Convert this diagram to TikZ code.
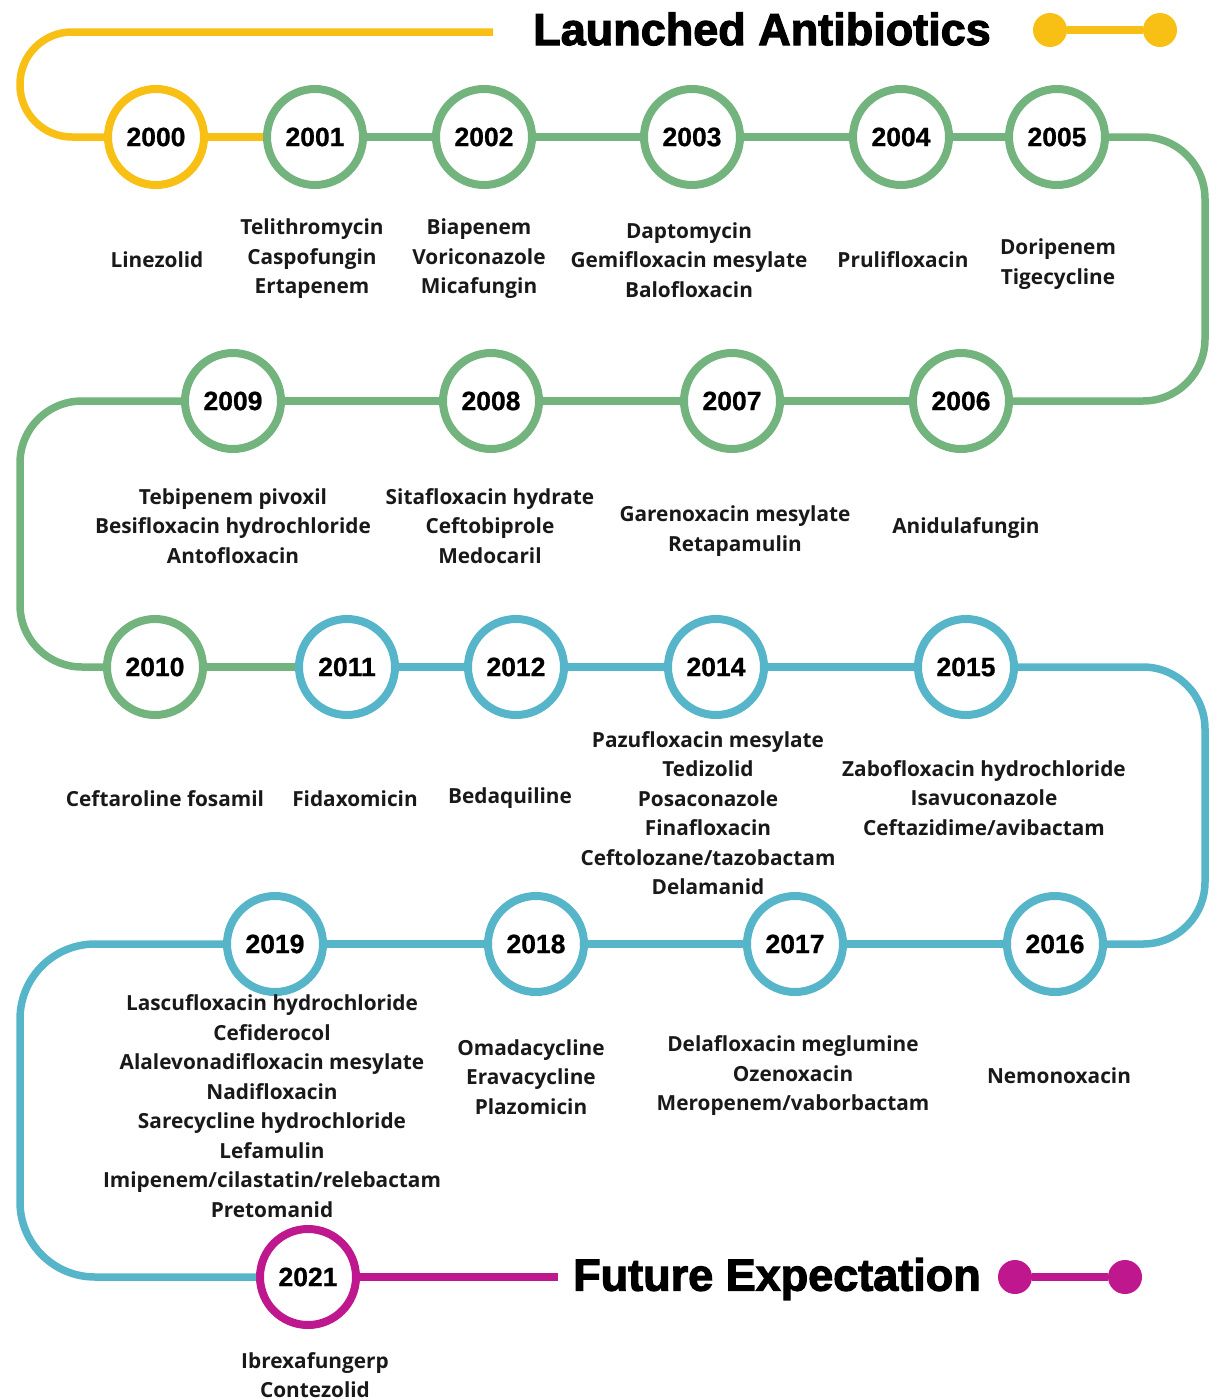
\documentclass[tikz,border=0pt]{standalone}
\usepackage{fontspec}
\setmainfont{Open Sans}
\newfontfamily\yearfont[BoldFeatures={FakeBold=0.8}]{Liberation Sans}
\newfontfamily\titlefont[BoldFeatures={FakeBold=2.5}]{Liberation Sans}
\definecolor{ycol}{HTML}{F8BF14}
\definecolor{gcol}{HTML}{73B37D}
\definecolor{bcol}{HTML}{56B5C9}
\definecolor{mcol}{HTML}{BF178E}
\begin{document}
\begin{tikzpicture}[x=1pt,y=-1pt,
  yr/.style={circle,minimum size=96pt,inner sep=0pt,line width=8pt,fill=white,
    font=\yearfont\bfseries\fontsize{26.5}{26.5}\selectfont},
  track/.style={line width=7.5pt},
  lbl/.style={align=center,inner sep=0pt,text=black!90,
    font=\bfseries\fontsize{20.8}{29.5}\selectfont},
  dot/.style={circle,inner sep=0pt,minimum size=34pt},
  ttl/.style={inner sep=0pt,font=\titlefont\bfseries\fontsize{45}{45}\selectfont}]
\useasboundingbox (0,0) rectangle (1216,1400);
% circles
\node[yr,draw=ycol] (y2000) at (156,137) {2000};
\node[yr,draw=gcol] (y2001) at (315,137) {2001};
\node[yr,draw=gcol] (y2002) at (484,137) {2002};
\node[yr,draw=gcol] (y2003) at (692,137) {2003};
\node[yr,draw=gcol] (y2004) at (901,137) {2004};
\node[yr,draw=gcol] (y2005) at (1057,137) {2005};
\node[yr,draw=gcol] (y2006) at (961,401) {2006};
\node[yr,draw=gcol] (y2007) at (732,401) {2007};
\node[yr,draw=gcol] (y2008) at (491,401) {2008};
\node[yr,draw=gcol] (y2009) at (233,401) {2009};
\node[yr,draw=gcol] (y2010) at (155,667) {2010};
\node[yr,draw=bcol] (y2011) at (347,667) {2011};
\node[yr,draw=bcol] (y2012) at (516,667) {2012};
\node[yr,draw=bcol] (y2014) at (716,667) {2014};
\node[yr,draw=bcol] (y2015) at (966,667) {2015};
\node[yr,draw=bcol] (y2016) at (1055,944) {2016};
\node[yr,draw=bcol] (y2017) at (795,944) {2017};
\node[yr,draw=bcol] (y2018) at (536,944) {2018};
\node[yr,draw=bcol] (y2019) at (275,944) {2019};
\node[yr,draw=mcol] (y2021) at (308,1277) {2021};
% titles and legends
\node[ttl] (t1) at (762,29) {Launched Antibiotics};
\node[ttl] (t2) at (777,1279) {Future Expectation};
\node[dot,fill=ycol] (ya) at (1050,30) {};
\node[dot,fill=ycol] (yb) at (1160,30) {};
\node[dot,fill=mcol] (ma) at (1015,1277) {};
\node[dot,fill=mcol] (mb) at (1125,1277) {};
\coordinate (ystart) at (493,32);
\coordinate (mend) at (558,1277);
% tracks
\draw[track,ycol] (ya) -- (yb);
\draw[track,mcol] (ma) -- (mb);
\draw[track,ycol,rounded corners=52pt] (ystart) -- (20,32) -- (20,137) -- (y2000);
\draw[track,ycol] (y2000) -- (y2001);
\draw[track,gcol] (y2001) -- (y2002) (y2002) -- (y2003) (y2003) -- (y2004) (y2004) -- (y2005);
\draw[track,gcol,rounded corners=62pt] (y2005) -- (1205,137) -- (1205,401) -- (y2006);
\draw[track,gcol] (y2006) -- (y2007) (y2007) -- (y2008) (y2008) -- (y2009);
\draw[track,gcol,rounded corners=62pt] (y2009) -- (20,401) -- (20,667) -- (y2010);
\draw[track,gcol] (y2010) -- (y2011);
\draw[track,bcol] (y2011) -- (y2012) (y2012) -- (y2014) (y2014) -- (y2015);
\draw[track,bcol,rounded corners=62pt] (y2015) -- (1205,667) -- (1205,944) -- (y2016);
\draw[track,bcol] (y2016) -- (y2017) (y2017) -- (y2018) (y2018) -- (y2019);
\draw[track,bcol,rounded corners=75pt] (y2019) -- (20,944) -- (20,1277) -- (y2021);
\draw[track,mcol] (y2021) -- (mend);
% labels
\node[lbl] (l2000) at (157,260) {Linezolid};
\node[lbl] (l2001) at (312,259) {Telithromycin\\Caspofungin\\Ertapenem};
\node[lbl] (l2002) at (479,259) {Biapenem\\Voriconazole\\Micafungin};
\node[lbl] (l2003) at (689,260) {Daptomycin\\Gemifloxacin mesylate\\Balofloxacin};
\node[lbl] (l2004) at (903,260) {Prulifloxacin};
\node[lbl] (l2005) at (1058,264) {Doripenem\\Tigecycline};
\node[lbl] (l2009) at (233,526) {Tebipenem pivoxil\\Besifloxacin hydrochloride\\Antofloxacin};
\node[lbl] (l2008) at (490,526) {Sitafloxacin hydrate\\Ceftobiprole\\Medocaril};
\node[lbl] (l2007) at (735,531) {Garenoxacin mesylate\\Retapamulin};
\node[lbl] (l2006) at (966,528) {Anidulafungin};
\node[lbl] (l2010) at (165,799) {Ceftaroline fosamil};
\node[lbl] (l2011) at (355,799) {Fidaxomicin};
\node[lbl] (l2012) at (510,798) {Bedaquiline};
\node[lbl] (l2014) at (708,813) {Pazufloxacin mesylate\\Tedizolid\\Posaconazole\\Finafloxacin\\Ceftolozane/tazobactam\\Delamanid};
\node[lbl] (l2015) at (984,798) {Zabofloxacin hydrochloride\\Isavuconazole\\Ceftazidime/avibactam};
\node[lbl] (l2019) at (272,1106) {Lascufloxacin hydrochloride\\Cefiderocol\\Alalevonadifloxacin mesylate\\Nadifloxacin\\Sarecycline hydrochloride\\Lefamulin\\Imipenem/cilastatin/relebactam\\Pretomanid};
\node[lbl] (l2018) at (531,1077) {Omadacycline\\Eravacycline\\Plazomicin};
\node[lbl] (l2017) at (793,1076) {Delafloxacin meglumine\\Ozenoxacin\\Meropenem/vaborbactam};
\node[lbl] (l2016) at (1059,1076) {Nemonoxacin};
\node[lbl] (l2021) at (315,1375) {Ibrexafungerp\\Contezolid};
\end{tikzpicture}
\end{document}
